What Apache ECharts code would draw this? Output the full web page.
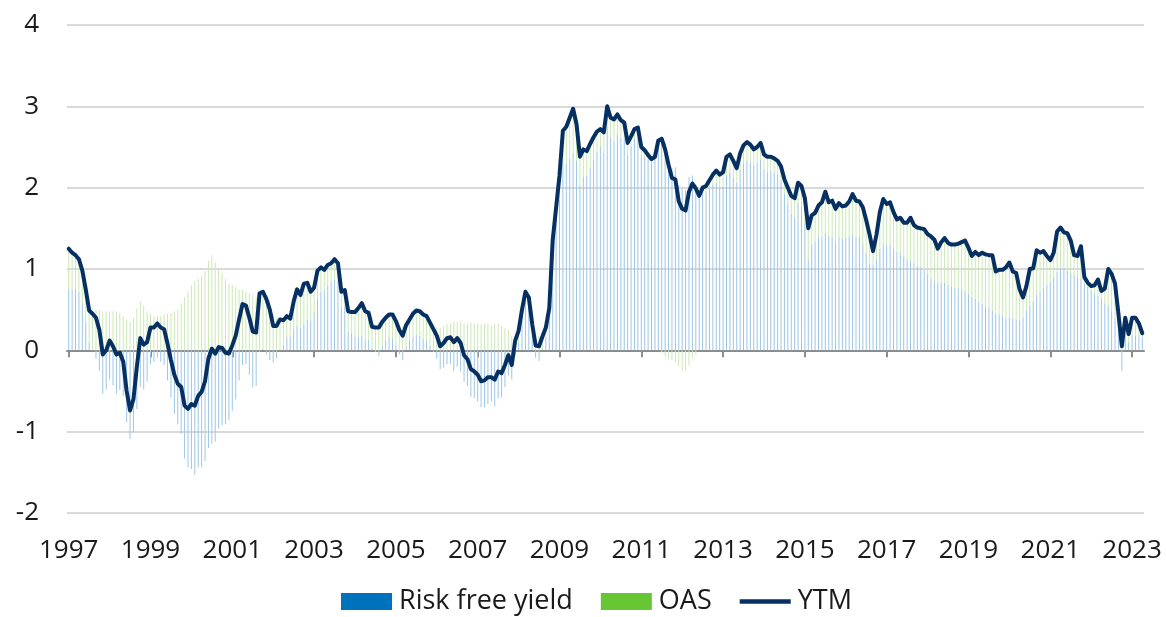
<!DOCTYPE html>
<html>
<head>
<meta charset="utf-8">
<script src="https://cdn.jsdelivr.net/npm/echarts@6/dist/echarts.min.js"></script>
<style>html,body{margin:0;padding:0;background:#fff}#c{width:1166px;height:617px}</style>
</head>
<body>
<div id="c"></div>
<script>
const startYear = 1997;
const ytm = [
 1.25,1.20,1.17,1.12,0.98,0.75,0.49,0.45,0.40,0.25,-0.05,0.00,
 0.12,0.05,-0.05,-0.03,-0.14,-0.50,-0.74,-0.60,-0.20,0.15,0.07,0.10,
 0.28,0.28,0.33,0.28,0.26,0.08,-0.12,-0.30,-0.41,-0.45,-0.68,-0.72,
 -0.66,-0.68,-0.56,-0.51,-0.38,-0.10,0.02,-0.04,0.04,0.03,-0.03,-0.04,
 0.06,0.18,0.38,0.57,0.55,0.40,0.23,0.22,0.70,0.72,0.63,0.50,
 0.30,0.30,0.38,0.37,0.42,0.39,0.60,0.75,0.68,0.82,0.83,0.72,
 0.77,0.98,1.02,0.99,1.05,1.07,1.12,1.07,0.72,0.74,0.48,0.47,
 0.47,0.52,0.58,0.48,0.46,0.29,0.28,0.28,0.35,0.40,0.44,0.44,
 0.36,0.25,0.18,0.31,0.38,0.45,0.49,0.48,0.44,0.42,0.34,0.26,
 0.18,0.05,0.09,0.15,0.16,0.10,0.15,0.09,-0.06,-0.11,-0.23,-0.26,
 -0.30,-0.38,-0.37,-0.33,-0.33,-0.36,-0.26,-0.28,-0.18,-0.06,-0.18,0.12,
 0.24,0.50,0.72,0.65,0.32,0.06,0.05,0.17,0.28,0.52,1.35,1.75,
 2.15,2.70,2.75,2.86,2.97,2.78,2.38,2.47,2.45,2.54,2.62,2.69,
 2.72,2.68,3.00,2.86,2.84,2.90,2.83,2.80,2.55,2.63,2.72,2.74,
 2.50,2.46,2.40,2.35,2.38,2.58,2.60,2.47,2.28,2.12,2.10,1.83,
 1.74,1.72,1.95,2.05,1.99,1.90,2.00,2.02,2.09,2.16,2.21,2.16,
 2.19,2.38,2.41,2.33,2.24,2.42,2.52,2.56,2.53,2.47,2.50,2.55,
 2.41,2.38,2.38,2.36,2.33,2.26,2.10,2.00,1.90,1.87,2.06,2.02,
 1.87,1.50,1.66,1.69,1.78,1.82,1.95,1.82,1.84,1.74,1.81,1.77,
 1.78,1.83,1.92,1.84,1.83,1.76,1.60,1.42,1.22,1.42,1.70,1.86,
 1.80,1.82,1.70,1.61,1.63,1.57,1.57,1.63,1.54,1.51,1.50,1.49,
 1.43,1.40,1.36,1.25,1.33,1.38,1.32,1.30,1.30,1.31,1.33,1.35,
 1.26,1.16,1.21,1.17,1.20,1.18,1.17,1.17,0.97,0.99,0.99,1.02,
 1.08,0.97,0.95,0.75,0.65,0.79,1.00,1.01,1.23,1.20,1.22,1.16,
 1.11,1.20,1.46,1.51,1.45,1.44,1.35,1.17,1.16,1.28,0.90,0.83,
 0.79,0.80,0.87,0.73,0.76,1.00,0.94,0.82,0.45,0.05,0.40,0.20,
 0.40,0.40,0.33,0.21
];
const oas = [
 0.50,0.45,0.42,0.40,0.40,0.40,0.40,0.45,0.50,0.50,0.48,0.48,
 0.48,0.48,0.48,0.46,0.42,0.38,0.35,0.40,0.52,0.60,0.55,0.48,
 0.45,0.42,0.42,0.42,0.44,0.45,0.46,0.48,0.50,0.58,0.65,0.72,
 0.80,0.85,0.88,0.92,0.98,1.10,1.17,1.08,1.00,0.95,0.88,0.82,
 0.80,0.78,0.75,0.75,0.72,0.70,0.68,0.66,0.72,0.70,0.68,0.62,
 0.45,0.40,0.38,0.30,0.25,0.22,0.35,0.45,0.40,0.50,0.45,0.35,
 0.30,0.35,0.30,0.25,0.25,0.22,0.25,0.22,0.20,0.20,0.25,0.25,
 0.30,0.35,0.40,0.35,0.33,0.27,0.30,0.35,0.30,0.28,0.28,0.30,
 0.30,0.30,0.30,0.27,0.26,0.28,0.30,0.30,0.30,0.30,0.28,0.28,
 0.28,0.28,0.30,0.32,0.33,0.35,0.35,0.35,0.33,0.33,0.34,0.33,
 0.33,0.32,0.33,0.33,0.30,0.33,0.33,0.30,0.27,0.25,0.18,0.18,
 0.15,0.12,0.08,0.05,0.10,0.15,0.18,0.15,0.12,0.10,0.10,0.15,
 0.30,0.40,0.45,0.50,0.55,0.45,0.35,0.33,0.30,0.30,0.28,0.25,
 0.22,0.25,0.25,0.25,0.28,0.25,0.22,0.20,0.15,0.12,0.12,0.12,
 0.10,0.08,0.05,0.05,0.02,0.00,-0.03,-0.08,-0.10,-0.12,-0.15,-0.20,
 -0.25,-0.25,-0.18,-0.10,-0.05,0.00,0.05,0.08,0.10,0.12,0.15,0.15,
 0.18,0.22,0.22,0.20,0.18,0.20,0.22,0.23,0.22,0.20,0.20,0.20,
 0.18,0.18,0.17,0.17,0.17,0.17,0.18,0.20,0.22,0.23,0.25,0.25,
 0.30,0.38,0.35,0.35,0.40,0.42,0.50,0.42,0.45,0.40,0.42,0.40,
 0.40,0.42,0.50,0.45,0.45,0.45,0.40,0.35,0.17,0.30,0.45,0.55,
 0.50,0.52,0.45,0.40,0.43,0.42,0.45,0.53,0.47,0.47,0.48,0.50,
 0.50,0.52,0.50,0.42,0.50,0.55,0.52,0.52,0.53,0.55,0.58,0.62,
 0.56,0.50,0.58,0.57,0.63,0.64,0.65,0.68,0.52,0.55,0.57,0.62,
 0.68,0.58,0.57,0.38,0.25,0.30,0.45,0.41,0.55,0.48,0.45,0.35,
 0.26,0.30,0.50,0.50,0.45,0.46,0.40,0.25,0.26,0.40,0.08,0.05,
 0.05,0.10,0.20,0.10,0.18,0.45,0.45,0.42,0.20,0.30,0.22,0.10,
 0.22,0.22,0.16,0.05
];
const rfy = [
 0.75,0.75,0.75,0.72,0.58,0.35,0.09,0.00,-0.10,-0.25,-0.53,-0.48,
 -0.36,-0.43,-0.53,-0.49,-0.56,-0.88,-1.09,-1.00,-0.72,-0.45,-0.48,-0.38,
 -0.17,-0.14,-0.09,-0.14,-0.18,-0.37,-0.58,-0.78,-0.91,-1.03,-1.33,-1.44,
 -1.46,-1.53,-1.44,-1.43,-1.36,-1.20,-1.15,-1.12,-0.96,-0.92,-0.91,-0.86,
 -0.74,-0.60,-0.37,-0.18,-0.17,-0.30,-0.45,-0.44,-0.02,0.02,-0.05,-0.12,
 -0.15,-0.10,0.00,0.07,0.17,0.17,0.25,0.30,0.28,0.32,0.38,0.37,
 0.47,0.63,0.72,0.74,0.80,0.85,0.87,0.85,0.52,0.54,0.23,0.22,
 0.17,0.17,0.18,0.13,0.13,0.02,-0.02,-0.07,0.05,0.12,0.16,0.14,
 0.06,-0.05,-0.12,0.04,0.12,0.17,0.19,0.18,0.14,0.12,0.06,-0.02,
 -0.10,-0.23,-0.21,-0.17,-0.17,-0.25,-0.20,-0.26,-0.39,-0.44,-0.57,-0.59,
 -0.63,-0.70,-0.70,-0.66,-0.63,-0.69,-0.59,-0.58,-0.45,-0.31,-0.36,-0.06,
 0.09,0.38,0.64,0.60,0.22,-0.09,-0.13,0.02,0.16,0.42,1.25,1.60,
 1.85,2.30,2.30,2.36,2.42,2.33,2.03,2.14,2.15,2.24,2.34,2.44,
 2.50,2.43,2.75,2.61,2.56,2.65,2.61,2.60,2.40,2.51,2.60,2.62,
 2.40,2.38,2.35,2.30,2.36,2.58,2.63,2.55,2.38,2.24,2.25,2.03,
 1.99,1.97,2.13,2.15,2.04,1.90,1.95,1.94,1.99,2.04,2.06,2.01,
 2.01,2.16,2.19,2.13,2.06,2.22,2.30,2.33,2.31,2.27,2.30,2.35,
 2.23,2.20,2.21,2.19,2.16,2.09,1.92,1.80,1.68,1.64,1.81,1.77,
 1.57,1.12,1.31,1.34,1.38,1.40,1.45,1.40,1.39,1.34,1.39,1.37,
 1.38,1.41,1.42,1.39,1.38,1.31,1.20,1.07,1.05,1.12,1.25,1.31,
 1.30,1.30,1.25,1.21,1.20,1.15,1.12,1.10,1.07,1.04,1.02,0.99,
 0.93,0.88,0.86,0.83,0.83,0.83,0.80,0.78,0.77,0.76,0.75,0.73,
 0.70,0.66,0.63,0.60,0.57,0.54,0.52,0.49,0.45,0.44,0.42,0.40,
 0.40,0.39,0.38,0.37,0.40,0.49,0.55,0.60,0.68,0.72,0.77,0.81,
 0.85,0.90,0.96,1.01,1.00,0.98,0.95,0.92,0.90,0.88,0.82,0.78,
 0.74,0.70,0.67,0.63,0.58,0.55,0.49,0.40,0.25,-0.25,0.18,0.10,
 0.18,0.18,0.17,0.16
];
const months = [];
for (let i = 0; i < ytm.length; i++) {
  const y = startYear + Math.floor(i / 12), m = (i % 12) + 1;
  months.push(y + '-' + String(m).padStart(2, '0'));
}
const FONT = 'Open Sans';
const TXT = '#1a1a1a';
const FS = 26;
const chart = echarts.init(document.getElementById('c'), null, {renderer: 'canvas'});
const every2y = (i) => i % 24 === 0;
chart.setOption({
  animation: false,
  backgroundColor: '#fff',
  grid: {left: 67, right: 22, top: 25, bottom: 104},
  legend: {
    left: 341, top: 588, padding: 0, itemWidth: 51, itemHeight: 17, itemGap: 28,
    textStyle: {fontSize: 27, color: TXT, fontFamily: FONT, padding: [0, 0, 0, 2]},
    data: [
      {name: 'Risk free yield', icon: 'rect', itemStyle: {color: '#0072bb'}},
      {name: 'OAS', icon: 'rect', itemStyle: {color: '#66c633'}},
      {name: 'YTM', icon: 'path://M0,0L52,0L52,4.5L0,4.5Z', itemStyle: {color: '#062f62'}}
    ]
  },
  xAxis: [
    {
      type: 'category', data: months, boundaryGap: true, position: 'bottom',
      axisLine: {show: false, onZero: false}, axisTick: {show: false},
      splitLine: {show: false},
      axisLabel: {interval: every2y, formatter: (v) => v.slice(0, 4), fontSize: FS,
        color: TXT, fontFamily: FONT, margin: 25}
    },
    {
      type: 'category', data: months, boundaryGap: true, position: 'bottom',
      axisLine: {show: true, onZero: true, lineStyle: {color: '#8c8c8c', width: 2}},
      axisTick: {show: true, interval: every2y, alignWithLabel: true, length: 7,
        lineStyle: {color: '#8c8c8c', width: 2}},
      axisLabel: {show: false}, splitLine: {show: false}
    }
  ],
  yAxis: {
    type: 'value', min: -2, max: 4, interval: 1,
    axisLine: {show: false}, axisTick: {show: false},
    splitLine: {lineStyle: {color: '#d9d9d9', width: 2}},
    axisLabel: {fontSize: FS, color: TXT, fontFamily: FONT, margin: 28}
  },
  series: [
    {name: 'Risk free yield', type: 'bar', stack: 's', data: rfy, barWidth: 1,
      itemStyle: {color: '#9cc6e6'}, xAxisIndex: 0},
    {name: 'OAS', type: 'bar', stack: 's', data: oas, barWidth: 1,
      itemStyle: {color: '#cbe8b5'}, xAxisIndex: 0},
    {name: 'YTM', type: 'line', data: ytm, symbol: 'none', showSymbol: false,
      lineStyle: {color: '#062f62', width: 4, join: 'round', cap: 'round'},
      itemStyle: {color: '#062f62'}, z: 5, xAxisIndex: 0}
  ]
});
</script>
</body>
</html>
